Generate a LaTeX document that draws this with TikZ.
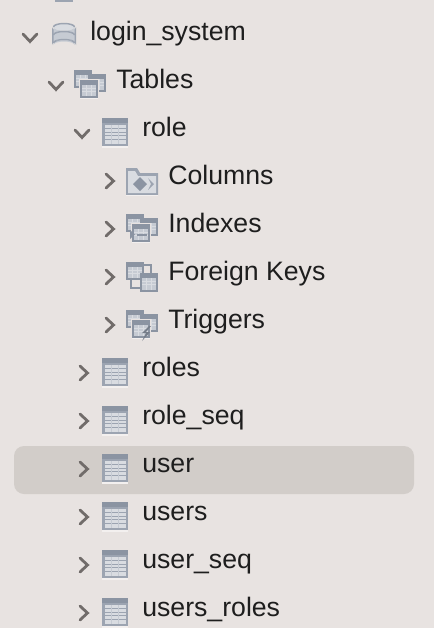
\documentclass[tikz,border=0pt]{standalone}
\usepackage{xcolor}
\usepackage{fontspec}
\setmainfont{Liberation Sans}
\usetikzlibrary{positioning}

\definecolor{panelbg}{HTML}{E8E3E1}
\definecolor{rowsel}{HTML}{D2CDC9}
\definecolor{txtdark}{HTML}{1E1E1E}
\definecolor{chevgray}{HTML}{716C6A}
\definecolor{iconhead}{HTML}{8B94A2}
\definecolor{iconline}{HTML}{9CA4B1}
\definecolor{iconcell}{HTML}{D9DCE1}
\definecolor{iconmid}{HTML}{C6CBD3}
\definecolor{iconglow}{HTML}{F3F0EF}

\newcommand{\minitbl}[4]{%
    \fill[iconhead] (#1,#2) rectangle (#3,#4);
    \fill[iconmid] (#1+2,#2+5) rectangle (#3-2,#4-2);
    \draw[iconcell, line width=.4pt] (#1+2,#2+8) -- (#3-2,#2+8) (#1+2,#2+11.5) -- (#3-2,#2+11.5)
        (#1+6.5,#2+5) -- (#1+6.5,#4-2) (#3-6.5,#2+5) -- (#3-6.5,#4-2);
}

\tikzset{
    lbl/.style={anchor=base west, inner sep=0pt, text=txtdark, font=\fontsize{20}{24}\selectfont},
    chevline/.style={draw=chevgray, line width=2.1pt, line cap=round, line join=miter},
    chevdown/.pic={\draw[chevline] (-7,-4) -- (0,3.5) -- (7,-4);},
    chevright/.pic={\draw[chevline] (-4,-7) -- (3.5,0) -- (-4,7);},
    tblicon/.pic={
        \fill[iconglow] (-13,14) rectangle (13,15.5);
        \fill[iconline] (-13,-14) rectangle (13,14);
        \fill[iconhead] (-13,-14) rectangle (13,-9);
        \fill[iconcell] (-10.5,-7.5) rectangle (10.5,11.5);
        \draw[iconline, line width=.55pt] (-10.5,-3.8) -- (10.5,-3.8) (-10.5,0) -- (10.5,0)
            (-10.5,3.8) -- (10.5,3.8) (-10.5,7.6) -- (10.5,7.6);
        \draw[iconmid, line width=.4pt] (-4,-7.5) -- (-4,11.5) (3.5,-7.5) -- (3.5,11.5);
    },
    tripleicon/.pic={
        \minitbl{-16}{-14}{2}{4}
        \minitbl{-2}{-10}{16}{8}
        \fill[panelbg] (-11,-5) rectangle (9,14);
        \minitbl{-10}{-4}{8}{14}
        \fill[iconglow] (-10,14) rectangle (8,15);
    },
    dbicon/.pic={
        \fill[iconline] (-12,-9) arc[start angle=180, end angle=0, x radius=12, y radius=5]
            -- (12,9) arc[start angle=0, end angle=-180, x radius=12, y radius=5] -- cycle;
        \fill[iconmid] (-10.5,-9) arc[start angle=180, end angle=0, x radius=10.5, y radius=3.5]
            -- (10.5,9) arc[start angle=0, end angle=-180, x radius=10.5, y radius=3.5] -- cycle;
        \fill[iconcell] (0,-9) ellipse[x radius=10.5, y radius=3.5];
        \draw[iconline, line width=1.1pt] (-10.5,-9) arc[start angle=180, end angle=360, x radius=10.5, y radius=3.5]
            (-10.5,-1) arc[start angle=180, end angle=360, x radius=10.5, y radius=3.5]
            (-10.5,7) arc[start angle=180, end angle=360, x radius=10.5, y radius=3.5];
        \fill[iconcell] (-8,3.5) rectangle (8,3.5);
    },
}

\begin{document}
\begin{tikzpicture}[x=.75pt, y=-.75pt]
    \useasboundingbox (0,0) rectangle (434,628);
    \clip (0,0) rectangle (434,628);
    \fill[panelbg] (0,0) rectangle (434,628);
    \fill[rowsel, rounded corners=7.5pt] (14,446) rectangle (414,494);
    \fill[iconline] (55,0) rectangle (73,2);

    % tree rows
    \node[lbl] (login) at (90,40) {login\_system};
    \node[lbl] (tables) at (116,88) {Tables};
    \node[lbl] (role) at (142,136) {role};
    \node[lbl] (columns) at (168,184) {Columns};
    \node[lbl] (indexes) at (168,232) {Indexes};
    \node[lbl] (fkeys) at (168,280) {Foreign Keys};
    \node[lbl] (triggers) at (168,328) {Triggers};
    \node[lbl] (roles) at (142,376) {roles};
    \node[lbl] (roleseq) at (142,424) {role\_seq};
    \node[lbl] (user) at (142,472) {user};
    \node[lbl] (users) at (142,520) {users};
    \node[lbl] (userseq) at (142,568) {user\_seq};
    \node[lbl] (usersroles) at (142,616) {users\_roles};

    \pic at (30,38) {chevdown};
    \pic at (56,86) {chevdown};
    \pic at (82,134) {chevdown};
    \pic at (110,181) {chevright};
    \pic at (110,229) {chevright};
    \pic at (110,277) {chevright};
    \pic at (110,325) {chevright};
    \pic at (84,373) {chevright};
    \pic at (84,421) {chevright};
    \pic at (84,469) {chevright};
    \pic at (84,517) {chevright};
    \pic at (84,565) {chevright};
    \pic at (84,613) {chevright};

    \pic at (64,36) {dbicon};
    \pic at (90,84) {tripleicon};
    \pic at (115,132) {tblicon};
    \pic at (115,372) {tblicon};
    \pic at (115,420) {tblicon};
    \pic at (115,468) {tblicon};
    \pic at (115,516) {tblicon};
    \pic at (115,564) {tblicon};
    \pic at (115,612) {tblicon};

    % columns folder
    \fill[iconline] (126,168) -- (137,168) -- (140,173) -- (158,173) -- (158,195) -- (126,195) -- cycle;
    \fill[iconcell] (128,171) -- (135,171) -- (138,176) -- (156,176) -- (156,193) -- (128,193) -- cycle;
    \fill[iconhead] (140,177) -- (147,184) -- (140,191) -- (133,184) -- cycle;
    \fill[iconline] (148,178) -- (154,184) -- (148,190) -- (151,184) -- cycle;
    \fill[iconglow] (126,195) rectangle (158,196);

    % indexes, triggers
    \pic at (142,228) {tripleicon};
    \fill[iconhead] (137,234) rectangle (147,236);
    \fill[iconhead] (130,230) -- (135,234.500) -- (130,239) -- cycle;
    \pic at (142,324) {tripleicon};
    \fill[iconhead!85!black] (149,326) -- (142,333) -- (146,333) -- (142,341) -- (150,332) -- (146,332) -- (151,326) -- cycle;

    % foreign keys
    \minitbl{126}{262}{144}{280}
    \minitbl{140}{273}{158}{292}
    \draw[iconhead, line width=1.1pt] (144,265) -- (151,265) -- (151,273) (131,280) -- (131,288) -- (140,288);
\end{tikzpicture}
\end{document}
